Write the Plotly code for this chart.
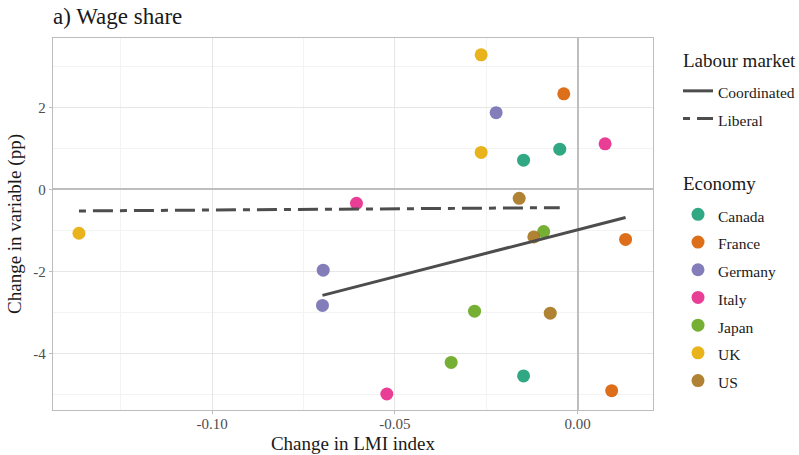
import numpy as np
import plotly.graph_objects as go

# Economies, their labour-market regime and palette colour
economies = ["Canada", "France", "Germany", "Italy", "Japan", "UK", "US"]
regimes = ["Liberal", "Coordinated", "Coordinated", "Coordinated", "Coordinated", "Liberal", "Liberal"]
colors = ["#1B9E77", "#D95F02", "#7570B3", "#E7298A", "#66A61E", "#E6AB02", "#A6761D"]

# One observation per economy and period
point_economy = ["Canada"] * 3 + ["France"] * 3 + ["Germany"] * 3 + ["Italy"] * 3 + \
                ["Japan"] * 3 + ["UK"] * 3 + ["US"] * 3
lmi_change = [-0.0148, -0.0049, -0.0148,
              -0.0038, 0.0131, 0.0093,
              -0.0223, -0.0696, -0.0698,
              0.0075, -0.0605, -0.0522,
              -0.0093, -0.0282, -0.0346,
              -0.0264, -0.0264, -0.1364,
              -0.0160, -0.0120, -0.0075]
wage_share_change = [0.71, 0.98, -4.55,
                     2.33, -1.22, -4.91,
                     1.87, -1.97, -2.83,
                     1.11, -0.34, -4.99,
                     -1.03, -2.97, -4.22,
                     3.28, 0.90, -1.07,
                     -0.22, -1.16, -3.02]

x_ticks = [-0.10, -0.05, 0.00]
x_tick_labels = ["-0.10", "-0.05", "0.00"]
y_ticks = [-4, -2, 0, 2]
y_tick_labels = ["-4", "-2", "0", "2"]

regime_styles = {"Coordinated": "solid", "Liberal": "7px,7px,20px,7px"}

SERIF = "Liberation Serif"
# Legend rows are spaced by the legend font size; the visible label is drawn smaller
ITEM = "<span style='font-size:15.5px'>{}</span>"


def rgba(hex_color, alpha):
    h = hex_color.lstrip("#")
    r, g, b = (int(h[i:i + 2], 16) for i in (0, 2, 4))
    return f"rgba({r},{g},{b},{alpha})"


x_arr = np.array(lmi_change)
y_arr = np.array(wage_share_change)
econ_arr = np.array(point_economy)

fig = go.Figure()

# Scatter points, one trace per economy
for econ, col in zip(economies, colors):
    mask = econ_arr == econ
    fig.add_trace(go.Scatter(
        x=x_arr[mask], y=y_arr[mask], mode="markers",
        name=ITEM.format(econ), legend="legend2",
        marker=dict(size=13, color=rgba(col, 0.9), line=dict(width=0)),
    ))

# Linear fit per labour-market regime, spanning the regime's x range
for regime in ["Coordinated", "Liberal"]:
    members = [e for e, r in zip(economies, regimes) if r == regime]
    mask = np.isin(econ_arr, members)
    xs, ys = x_arr[mask], y_arr[mask]
    slope, intercept = np.polyfit(xs, ys, 1)
    x_line = np.array([xs.min(), xs.max()])
    fig.add_trace(go.Scatter(
        x=x_line, y=slope * x_line + intercept, mode="lines",
        name=ITEM.format(regime), legend="legend",
        line=dict(color="#4D4D4D", width=3, dash=regime_styles[regime]),
    ))

axis_common = dict(
    automargin=False,
    showline=True, mirror=True, linecolor="#BDBDBD", linewidth=1.3,
    showgrid=True, gridcolor="#E6E6E6", gridwidth=1,
    zeroline=True, zerolinecolor="#BEBEBE", zerolinewidth=2,
    ticks="outside", ticklen=3, tickcolor="#BDBDBD", tickwidth=1,
    tickfont=dict(family=SERIF, size=15, color="#4D4D4D"),
)

legend_common = dict(
    font=dict(family=SERIF, size=19, color="#1A1A1A"),
    xref="container", yref="container", xanchor="left", yanchor="top",
    bgcolor="rgba(0,0,0,0)", tracegroupgap=0, maxheight=440,
)

# Legend headings
legend_heads = [("Labour market", 60.5), ("Economy", 183.3)]
annotations = [
    dict(text=txt, xref="paper", yref="paper", x=(681 - 53) / 600, y=1 - (yc - 38) / 372,
         xanchor="left", yanchor="middle", showarrow=False,
         font=dict(family=SERIF, size=19, color="#1A1A1A"))
    for txt, yc in legend_heads
]

fig.update_layout(
    width=799, height=455,
    margin=dict(l=53, r=146, t=38, b=45),
    paper_bgcolor="white", plot_bgcolor="white",
    font=dict(family=SERIF, color="#1A1A1A"),
    title=dict(text="a) Wage share", font=dict(family=SERIF, size=23, color="#1A1A1A"),
               x=53 / 799, xanchor="left", y=1 - 16 / 455, yanchor="middle"),
    xaxis=dict(range=[-0.1435, 0.0206], tickvals=x_ticks, ticktext=x_tick_labels,
               ticklabelstandoff=-3,
               minor=dict(tickvals=[-0.125, -0.075, -0.025], showgrid=True,
                          gridcolor="#F3F3F3", gridwidth=1),
               title=dict(text="Change in LMI index", font=dict(family=SERIF, size=19, color="#1A1A1A"),
                          standoff=5),
               **axis_common),
    yaxis=dict(range=[-5.38, 3.69], tickvals=y_ticks, ticktext=y_tick_labels,
               minor=dict(tickvals=[-5, -3, -1, 1, 3], showgrid=True,
                          gridcolor="#F3F3F3", gridwidth=1),
               title=dict(text="Change in variable (pp)", font=dict(family=SERIF, size=19, color="#1A1A1A"),
                          standoff=6),
               **axis_common),
    legend=dict(x=678 / 799, y=1 - 72 / 455, **legend_common),
    legend2=dict(x=678 / 799, y=1 - 195.5 / 455, **legend_common),
    annotations=annotations,
    showlegend=True,
)

fig.write_html("out.html")
